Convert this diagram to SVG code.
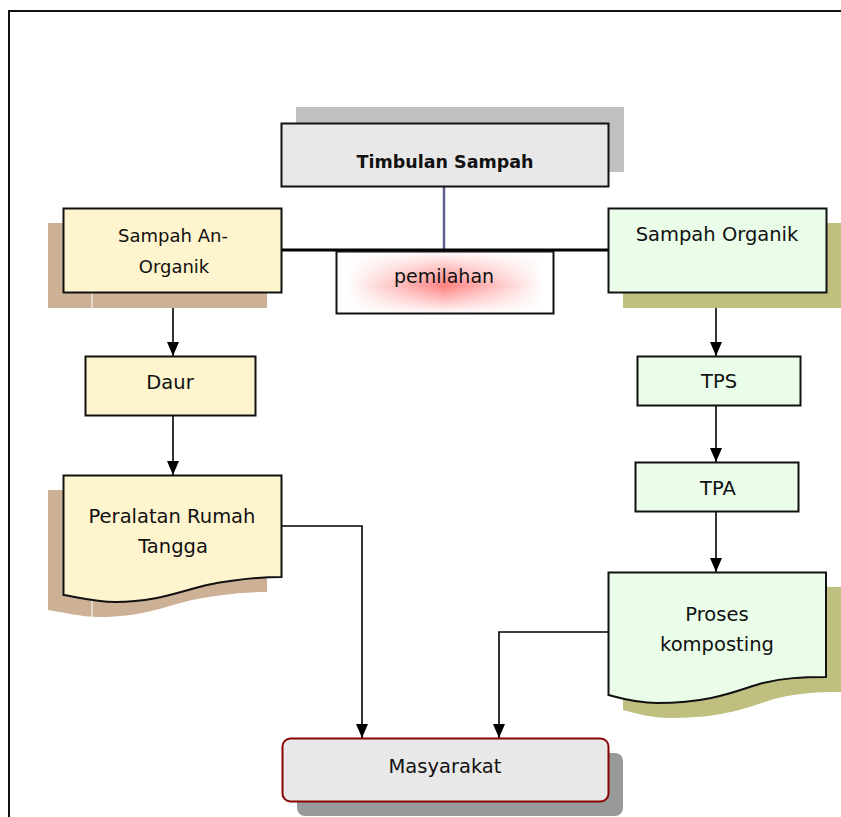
<svg xmlns="http://www.w3.org/2000/svg" width="841" height="817" viewBox="0 0 841 817">
<style>
text{font-family:"DejaVu Sans","Liberation Sans",sans-serif;font-size:19.5px;fill:#111;text-anchor:middle}
.b{stroke:#111;stroke-width:2}
.conn{fill:none;stroke:#000;stroke-width:1.6}
.yel{fill:#fef4cd}
.grn{fill:#eafde9}
.tan{fill:#ccb197}
.olv{fill:#bfbf80}
</style>
<defs>
<marker id="ah" markerWidth="14" markerHeight="14" viewBox="0 0 14 14" refX="14" refY="7" orient="auto" markerUnits="userSpaceOnUse">
<path d="M0,1 L14,7 L0,13 Z" fill="#000"/>
</marker>
<linearGradient id="hg" x1="0" y1="0" x2="1" y2="0">
<stop offset="0.05" stop-color="#ff8080" stop-opacity="0"/>
<stop offset="0.5" stop-color="#ff8080" stop-opacity="1"/>
<stop offset="0.95" stop-color="#ff8080" stop-opacity="0"/>
</linearGradient>
<linearGradient id="vg" x1="0" y1="0" x2="0" y2="1">
<stop offset="0" stop-color="#fff" stop-opacity="0"/>
<stop offset="0.55" stop-color="#fff" stop-opacity="1"/>
<stop offset="1" stop-color="#fff" stop-opacity="0"/>
</linearGradient>
<mask id="vm" maskUnits="userSpaceOnUse" x="336" y="251" width="218" height="63">
<rect x="336" y="251" width="218" height="63" fill="url(#vg)"/>
</mask>
</defs>

<!-- frame -->
<path d="M9,817 V11 H841" fill="none" stroke="#111" stroke-width="2"/>

<g id="connectors">
<line x1="444" y1="187" x2="444" y2="250" stroke="#5f5f90" stroke-width="2.5"/>
<line x1="282" y1="250" x2="608" y2="250" stroke="#000" stroke-width="3"/>
<line class="conn" x1="173" y1="293" x2="173" y2="356" marker-end="url(#ah)"/>
<line class="conn" x1="173" y1="415" x2="173" y2="475" marker-end="url(#ah)"/>
<line class="conn" x1="716" y1="293" x2="716" y2="356" marker-end="url(#ah)"/>
<line class="conn" x1="716" y1="406" x2="716" y2="462" marker-end="url(#ah)"/>
<line class="conn" x1="716" y1="512" x2="716" y2="572" marker-end="url(#ah)"/>
<polyline class="conn" points="282,526 362,526 362,738" marker-end="url(#ah)"/>
<polyline class="conn" points="608,632 499,632 499,738" marker-end="url(#ah)"/>
</g>

<g id="timbulan">
<rect x="296" y="107" width="328" height="65" fill="#c0c0c0"/>
<rect x="281.5" y="123.5" width="327" height="63" fill="#e8e8e8" class="b"/>
<text x="445" y="168" style="font-weight:bold;font-size:17.5px">Timbulan Sampah</text>
</g>

<g id="pemilahan">
<rect x="336" y="251" width="218" height="63" fill="#fff"/>
<g mask="url(#vm)"><rect x="336" y="251" width="218" height="63" fill="url(#hg)"/></g>
<rect x="336.5" y="251.5" width="217" height="62" fill="none" class="b"/>
<text x="444" y="283" style="font-size:19px">pemilahan</text>
</g>

<g id="anorganik">
<rect x="48" y="223" width="219" height="85" class="tan"/>
<line x1="92" y1="293" x2="92" y2="308" stroke="#fff" stroke-width="1"/>
<rect x="63.5" y="208.5" width="218" height="84" class="yel b"/>
<text x="173" y="242" style="font-size:18px">Sampah An-</text>
<text x="174" y="273" style="font-size:18px">Organik</text>
</g>

<g id="organik">
<rect x="623" y="223" width="218" height="85" class="olv"/>
<rect x="608.5" y="208.5" width="218" height="84" class="grn b"/>
<text x="717" y="241">Sampah Organik</text>
</g>

<g id="daur">
<rect x="85.5" y="356.5" width="170" height="59" class="yel b"/>
<text x="170" y="389">Daur</text>
</g>

<g id="peralatan">
<path d="M48,490 H267 V592 C238,592 212,596 192,600 C160,608 140,617 100,617 C80,617 62,612 48,610 Z" class="tan"/>
<line x1="92" y1="596" x2="92" y2="617" stroke="#fff" stroke-width="1"/>
<path d="M63.5,475.5 H281.5 V577 C253,577 227,581 207,585 C175,593 155,602 115,602 C95,602 77,597 63.5,595 Z" class="yel b"/>
<text x="172" y="523">Peralatan Rumah</text>
<text x="173" y="553">Tangga</text>
</g>

<g id="tps">
<rect x="637.5" y="356.5" width="163" height="49" class="grn b"/>
<text x="719" y="388">TPS</text>
</g>

<g id="tpa">
<rect x="635.5" y="462.5" width="163" height="49" class="grn b"/>
<text x="718" y="495">TPA</text>
</g>

<g id="proses">
<path d="M623,587 H841 V692 C815,692 800,693 778,698 C755,704 730,718 672,718 C650,718 635,713 623,710 Z" class="olv"/>
<path d="M608.5,572.5 H826 V677 C800,677 785,678 763,683 C740,689 715,703 657,703 C635,703 620,698 608.5,695 Z" class="grn b"/>
<text x="717" y="621">Proses</text>
<text x="717" y="651">komposting</text>
</g>

<g id="masyarakat">
<rect x="297" y="753" width="326" height="63" rx="8" fill="#999"/>
<rect x="282.5" y="738.5" width="326" height="63" rx="8" fill="#e8e8e8" stroke="#8b0000" stroke-width="2"/>
<text x="445" y="773">Masyarakat</text>
</g>
</svg>
